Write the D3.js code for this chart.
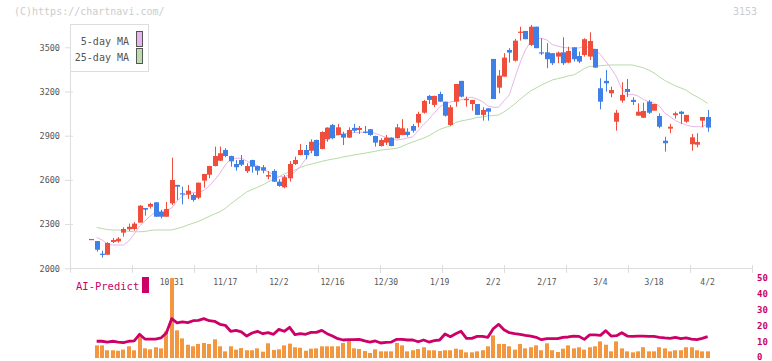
<!DOCTYPE html>
<html><head><meta charset="utf-8">
<script src="https://cdn.jsdelivr.net/npm/d3@7"></script>
<style>body{margin:0;background:#fff}svg{display:block}</style>
</head><body>
<svg id="chart" width="772" height="361"></svg>
<script>
// ---- data (index 0 = first session shown, 10/31 = index 15, 4/2 = index 115) ----
const tickLabels = ["10/31","11/17","12/2","12/16","12/30","1/19","2/2","2/17","3/4","3/18","4/2"];
const tickIndex  = [15,25,35,45,55,65,75,85,95,105,115];
const priceTicks = [2000,2300,2600,2900,3200,3500];
const subTicks   = [0,10,20,30,40,50];

const open = [2196,2185,2099,2092,2179,2183,2242,2265,2267,2310,2409,2418,2448,2384,2350,2441,2566,2509,2500,2498,
2479,2595,2635,2694,2730,2803,2762,2708,2735,2659,2735,2694,2686,2622,2661,2588,2550,2611,2708,2769,
2803,2798,2871,2810,2876,2973,2905,2912,2887,2953,2939,2927,2944,2898,2830,2853,2887,2883,2905,2927,
2966,2988,3056,3170,3109,3183,3131,2973,3131,3272,3143,3115,3115,3041,3086,3421,3226,3301,3482,3409,
3600,3611,3516,3640,3466,3466,3460,3437,3466,3396,3500,3441,3448,3437,3489,3222,3272,3188,2995,3138,
3217,3143,3036,3022,3131,3070,3034,2866,2948,3039,3063,2995,2842,2839,3002,3027];
const high = [2199,2185,2119,2177,2206,2212,2278,2303,2314,2430,2409,2445,2450,2398,2450,2751,2566,2554,2566,2509,
2583,2642,2696,2826,2826,2815,2764,2735,2769,2713,2737,2696,2701,2661,2672,2604,2633,2728,2758,2844,
2837,2876,2873,2930,2957,2980,2980,2927,2957,2980,2966,2966,2946,2900,2883,2905,2889,2980,3012,2950,
2980,3063,3143,3177,3172,3199,3131,3109,3251,3272,3165,3143,3115,3093,3086,3421,3346,3460,3494,3557,
3640,3611,3652,3640,3561,3528,3460,3471,3568,3504,3500,3471,3561,3602,3489,3290,3346,3233,3075,3263,
3285,3161,3120,3124,3143,3115,3052,2893,2980,3063,3068,3041,2912,2917,3027,3075];
const low = [2196,2113,2072,2092,2172,2174,2215,2253,2255,2310,2357,2405,2350,2339,2350,2430,2464,2434,2470,2452,
2470,2547,2611,2692,2728,2754,2690,2663,2694,2647,2649,2633,2645,2604,2586,2554,2543,2588,2701,2767,
2740,2781,2760,2808,2859,2876,2903,2837,2885,2921,2912,2916,2900,2826,2826,2837,2828,2881,2903,2893,
2921,2957,3050,3115,3093,3131,3030,2966,3097,3160,3097,3070,3041,3002,3002,3149,3188,3301,3396,3403,
3545,3555,3509,3494,3448,3358,3380,3392,3380,3392,3403,3392,3437,3414,3362,3079,3199,3161,2934,3124,
3163,3109,3036,3022,3048,3070,2950,2792,2917,3016,2980,2988,2798,2821,2957,2927];
const close = [2199,2126,2092,2172,2192,2201,2267,2282,2303,2425,2398,2437,2350,2350,2403,2599,2554,2502,2527,2464,
2581,2640,2694,2762,2781,2762,2726,2686,2703,2694,2690,2663,2663,2633,2588,2559,2618,2708,2735,2803,
2769,2859,2762,2925,2955,2883,2957,2887,2939,2934,2953,2921,2905,2853,2871,2887,2830,2957,2950,2905,
2934,3048,3136,3143,3170,3131,3036,3093,3251,3165,3149,3143,3041,3075,3063,3149,3308,3430,3464,3545,
3606,3555,3640,3494,3460,3419,3392,3464,3392,3475,3419,3403,3555,3543,3362,3131,3256,3210,3056,3177,
3197,3129,3063,3068,3056,3115,2961,2849,2961,3052,3048,3041,2889,2857,3027,2955];

const ma5 = [null,2210,2192,2165,2158,2158,2158,2185,2233,2287,2321,2355,2382,2385,2392,2409,2457,2491,2509,2513,
2518,2528,2559,2599,2645,2701,2742,2747,2747,2728,2711,2697,2674,2654,2637,2623,2622,2633,2654,2691,
2742,2793,2830,2854,2871,2891,2905,2913,2918,2921,2923,2925,2927,2915,2902,2888,2878,2871,2876,2885,
2893,2935,2975,3012,3055,3095,3118,3128,3136,3143,3153,3161,3149,3131,3102,3093,3093,3136,3177,3289,
3394,3482,3540,3560,3561,3550,3519,3509,3499,3496,3494,3496,3504,3499,3485,3451,3404,3356,3299,3217,
3177,3181,3170,3146,3131,3122,3102,3054,3029,3003,2986,2973,2963,2961,2961,2980];
const ma25 = [null,2278,2270,2263,2260,2260,2257,2251,2248,2248,2250,2257,2260,2260,2260,2260,2270,2280,2294,2306,
2318,2335,2352,2369,2384,2406,2437,2464,2491,2518,2535,2549,2566,2586,2603,2620,2640,2656,2667,2684,
2698,2707,2716,2726,2734,2741,2747,2756,2762,2769,2775,2781,2788,2794,2802,2807,2810,2815,2827,2844,
2857,2871,2883,2900,2921,2942,2956,2966,2990,3000,3007,3014,3024,3027,3034,3037,3041,3061,3088,3115,
3146,3177,3204,3224,3244,3261,3278,3287,3295,3306,3312,3333,3356,3370,3373,3375,3378,3380,3380,3380,
3380,3380,3370,3361,3346,3326,3299,3275,3256,3238,3224,3210,3183,3165,3143,3120];

const volume = [null,8.0,8.0,4.9,4.9,4.6,5.3,7.4,4.9,13.7,6.1,5.5,6.8,6.1,16.9,50.6,17.5,12.4,8.4,7.4,
8.9,9.5,8.9,11.8,7.4,4.2,7.4,5.3,6.3,4.9,4.9,6.1,4.0,9.3,5.1,5.5,8.0,9.1,6.8,6.5,
4.6,5.9,6.1,7.4,7.4,7.4,7.4,9.5,11.2,6.1,5.7,4.4,3.2,5.5,4.2,4.2,4.2,9.5,8.0,4.2,
4.9,5.7,6.8,4.9,4.9,4.4,4.9,4.9,5.9,5.3,3.6,3.6,4.2,4.9,7.4,14.3,8.9,8.9,7.4,5.3,
8.9,6.1,6.8,8.0,4.9,9.3,4.9,3.8,5.9,8.0,6.1,6.8,5.3,6.8,7.4,10.5,8.4,4.2,10.5,6.1,
4.2,3.6,4.2,6.8,4.2,4.2,6.8,6.1,4.2,4.9,4.9,6.8,6.8,4.9,4.2,4.2];
const aiPredict = [null,10.6,10.6,10.1,10.6,10.1,9.7,10.6,10.8,15.0,12.0,12.0,12.0,12.7,15.8,24.9,22.2,22.8,22.4,23.6,
23.8,24.9,23.6,23.2,21.3,20.7,16.9,17.5,16.5,13.9,15.8,16.9,15.4,16.1,15.0,18.1,16.9,19.4,14.8,15.4,
15.0,16.2,16.2,17.5,15.4,13.9,12.2,11.4,11.6,11.6,11.8,10.8,10.1,10.8,9.5,9.9,10.1,11.8,11.8,11.4,
11.4,10.3,11.4,10.1,11.0,11.4,15.2,13.5,15.4,16.9,12.4,12.4,13.7,13.7,13.1,18.5,21.3,17.9,16.0,15.4,
15.0,14.3,13.9,13.1,11.6,12.2,12.2,12.2,13.1,13.3,13.9,13.7,11.8,14.6,14.6,14.3,17.3,13.9,14.1,16.0,
13.9,13.7,13.9,13.9,13.7,13.7,13.1,12.7,12.4,13.1,12.2,12.7,12.0,11.6,12.4,13.5];

// ---- drawing ----
const svg = d3.select("#chart");
const MONO = "'DejaVu Sans Mono', 'Liberation Mono', monospace";
const UP = "#f04e3c", DOWN = "#3f7fe8", PINK = "#e6b6ea", GREEN = "#b6dba6", ORANGE = "#f2973f", AI = "#cc0066", GRID = "#dddddd";

const n = close.length;
const x = d3.scaleLinear().domain([0, n - 1]).range([91.3, 707.6]);
const y = d3.scaleLinear().domain([2000, 3500]).range([268.3, 47.3]);
const yb = d3.scaleLinear().domain([0, 50]).range([358, 279]);
const tickScale = d3.scaleLinear().domain([0, 11]).range([70, 752]);
const px = i => Math.round(x(i));

// watermark / code
svg.append("text").attr("x", 14).attr("y", 15).attr("font-family", MONO).attr("font-size", 10)
  .attr("fill", "#cccccc").text("(C)https://chartnavi.com/");
svg.append("text").attr("x", 757).attr("y", 15).attr("text-anchor", "end").attr("font-family", MONO)
  .attr("font-size", 10).attr("fill", "#cccccc").text("3153");

// left axis
const gy = svg.append("g").attr("transform", "translate(70,0)")
  .call(d3.axisLeft(y).tickValues(priceTicks).tickFormat(d3.format("d")).tickSize(5).tickPadding(5));
gy.select(".domain").remove();
gy.selectAll(".tick line").attr("stroke", GRID).attr("x2", 3).attr("x1", -5);
gy.selectAll(".tick text").attr("font-family", MONO).attr("font-size", 8.5).attr("fill", "#555");
svg.append("line").attr("x1", 70.5).attr("x2", 70.5).attr("y1", 24).attr("y2", 268.5).attr("stroke", GRID);

// bottom axis (tick marks at equal divisions)
const gx = svg.append("g").attr("transform", "translate(0,268)")
  .call(d3.axisBottom(tickScale).tickValues(d3.range(12)).tickSize(5).tickFormat(""));
gx.select(".domain").attr("stroke", GRID).attr("d", "M70,0.5H752");
gx.selectAll(".tick line").attr("stroke", GRID).attr("y1", -3).attr("y2", 5);

// date labels
svg.append("g").selectAll("text").data(tickIndex).join("text")
  .attr("x", i => x(i)).attr("y", 285).attr("text-anchor", "middle")
  .attr("font-family", MONO).attr("font-size", 8).attr("fill", "#555")
  .text((d, k) => tickLabels[k]);

// moving averages
const maLine = d3.line().defined(d => d != null).x((d, i) => x(i)).y(d => y(d));
svg.append("path").datum(ma25).attr("d", maLine).attr("fill", "none").attr("stroke", GREEN).attr("stroke-width", 1);
svg.append("path").datum(ma5).attr("d", maLine).attr("fill", "none").attr("stroke", PINK).attr("stroke-width", 1);

// candles
const idx = d3.range(n);
const cg = svg.append("g");
cg.selectAll("line").data(idx).join("line")
  .attr("x1", i => px(i) + 0.5).attr("x2", i => px(i) + 0.5)
  .attr("y1", i => y(high[i])).attr("y2", i => y(low[i]))
  .attr("stroke", i => close[i] >= open[i] ? UP : DOWN).attr("stroke-width", 1);
cg.selectAll("rect").data(idx).join("rect")
  .attr("x", i => px(i) - 2).attr("width", 5)
  .attr("y", i => y(Math.max(open[i], close[i])))
  .attr("height", i => Math.max(1.2, Math.abs(y(open[i]) - y(close[i]))))
  .attr("fill", i => close[i] >= open[i] ? UP : DOWN);

// legend
const lg = svg.append("g");
lg.append("rect").attr("x", 70.5).attr("y", 24.5).attr("width", 78).attr("height", 47)
  .attr("fill", "#fff").attr("stroke", GRID);
lg.append("text").attr("x", 129).attr("y", 45).attr("text-anchor", "end").attr("font-family", MONO)
  .attr("font-size", 10).attr("fill", "#555").text("5-day MA");
lg.append("text").attr("x", 129).attr("y", 60.5).attr("text-anchor", "end").attr("font-family", MONO)
  .attr("font-size", 10).attr("fill", "#555").text("25-day MA");
lg.append("rect").attr("x", 136.5).attr("y", 31.5).attr("width", 6).attr("height", 15)
  .attr("fill", "#e8b4ec").attr("stroke", "#555");
lg.append("rect").attr("x", 136.5).attr("y", 48.5).attr("width", 6).attr("height", 15)
  .attr("fill", "#bddcab").attr("stroke", "#555");

// bottom panel: volume bars
svg.append("g").selectAll("rect").data(idx.filter(i => volume[i] != null)).join("rect")
  .attr("x", i => px(i) - 2).attr("width", 4)
  .attr("y", i => yb(volume[i])).attr("height", i => yb(0) - yb(volume[i]))
  .attr("fill", ORANGE);

// AI-Predict line
const aiLine = d3.line().defined(d => d != null).x((d, i) => x(i)).y(d => yb(d));
svg.append("path").datum(aiPredict).attr("d", aiLine).attr("fill", "none")
  .attr("stroke", AI).attr("stroke-width", 2.8).attr("stroke-linejoin", "round");

// right axis for AI panel
const gr = svg.append("g").attr("transform", "translate(756,0)")
  .call(d3.axisRight(yb).tickValues(subTicks).tickSize(0).tickPadding(1));
gr.select(".domain").remove();
gr.selectAll(".tick text").attr("font-family", MONO).attr("font-size", 9).attr("font-weight", "bold")
  .attr("fill", AI).attr("dy", "0.2em");

// AI legend
svg.append("text").attr("x", 76).attr("y", 290).attr("font-family", MONO).attr("font-size", 10.5)
  .attr("fill", AI).text("AI-Predict");
svg.append("rect").attr("x", 142).attr("y", 277).attr("width", 7).attr("height", 16).attr("fill", AI);
</script>
</body></html>
